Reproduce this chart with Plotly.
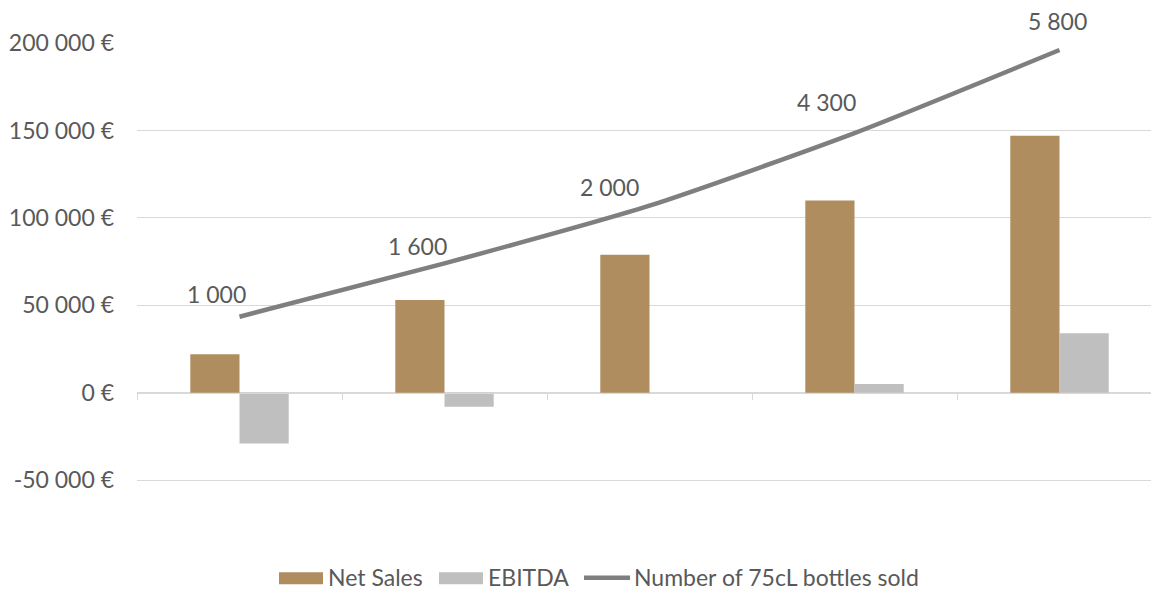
import plotly.graph_objects as go

categories = ["Y1", "Y2", "Y3", "Y4", "Y5"]
net_sales = [22000, 53000, 79000, 110000, 147000]
ebitda = [-29000, -8000, 0, 5000, 34000]
bottles_line = [43500, 74000, 107000, 148500, 196000]
bottles_labels = ["1 000", "1 600", "2 000", "4 300", "5 800"]
y_ticks = [-50000, 0, 50000, 100000, 150000, 200000]
y_tick_labels = ["-50 000 €", "0 €", "50 000 €", "100 000 €", "150 000 €", "200 000 €"]

# label pixel offsets (styling)
label_dx = [-23, -27, -40, -28, -2]
label_dy = [23, 17, 19, 31, 29]

FONT = "Lato, Carlito, Calibri, sans-serif"
TXT = "#595959"
C_SALES = "#AF8D5F"
C_EBITDA = "#BFBFBF"
C_LINE = "#7F7F7F"
FS = 23

fig = go.Figure()
fig.add_trace(go.Bar(x=categories, y=net_sales, name="Net Sales", showlegend=False,
                     marker=dict(color=C_SALES, line=dict(width=0))))
fig.add_trace(go.Bar(x=categories, y=ebitda, name="EBITDA", showlegend=False,
                     marker=dict(color=C_EBITDA, line=dict(width=0))))
fig.add_trace(go.Scatter(x=categories, y=bottles_line, mode="lines", showlegend=False,
                         name="Number of 75cL bottles sold",
                         line=dict(color=C_LINE, width=4.5, shape="spline", smoothing=0.6)))

for c, v, t, dx, dy in zip(categories, bottles_line, bottles_labels, label_dx, label_dy):
    fig.add_annotation(x=c, y=v, text=t, showarrow=False, xshift=dx, yshift=dy,
                       font=dict(family=FONT, size=FS, color=TXT))

# manual legend (paper coords; plot area 1025 x ~439 px)
W = 1025.0
Y_TOP, Y_BOT = 43.0, 481.75
H = Y_BOT - Y_TOP
def px(x):
    return (x - 137) / W
def py(y):
    return (Y_BOT - y) / H

fig.add_shape(type="rect", xref="paper", yref="paper", x0=px(279), x1=px(323),
              y0=py(584), y1=py(572), fillcolor=C_SALES, line=dict(width=0))
fig.add_shape(type="rect", xref="paper", yref="paper", x0=px(439), x1=px(483),
              y0=py(584), y1=py(572), fillcolor=C_EBITDA, line=dict(width=0))
fig.add_shape(type="line", xref="paper", yref="paper", x0=px(584), x1=px(630),
              y0=py(577.5), y1=py(577.5), line=dict(color=C_LINE, width=4.5))
for x0, t in [(326, "Net Sales"), (486, "EBITDA"), (632, "Number of 75cL bottles sold")]:
    fig.add_annotation(xref="paper", yref="paper", x=px(x0), y=py(577), text=t,
                       showarrow=False, xanchor="left", yanchor="middle",
                       font=dict(family=FONT, size=FS, color=TXT))

fig.update_layout(
    width=1159, height=592,
    margin=dict(l=129, r=5, t=35, b=118.25, autoexpand=False),
    paper_bgcolor="white", plot_bgcolor="white",
    barmode="group", bargap=0.52, bargroupgap=0,
    font=dict(family=FONT, size=FS, color=TXT),
    showlegend=False,
    xaxis=dict(showticklabels=False, anchor="free", position=51000 / 251000,
               showline=True, linecolor="#D9D9D9", linewidth=1,
               ticks="outside", tickson="boundaries", ticklen=6, tickcolor="#D9D9D9",
               showgrid=False, zeroline=False, automargin=False),
    yaxis=dict(range=[-51000, 200000], tickvals=y_ticks, ticktext=y_tick_labels,
               showgrid=True, gridcolor="#D9D9D9", gridwidth=1,
               zeroline=True, zerolinecolor="#D9D9D9", zerolinewidth=1,
               showline=False, ticks="", ticklabelstandoff=22, automargin=False,
               tickfont=dict(family=FONT, size=FS, color=TXT)),
)

fig.write_html("out.html")
